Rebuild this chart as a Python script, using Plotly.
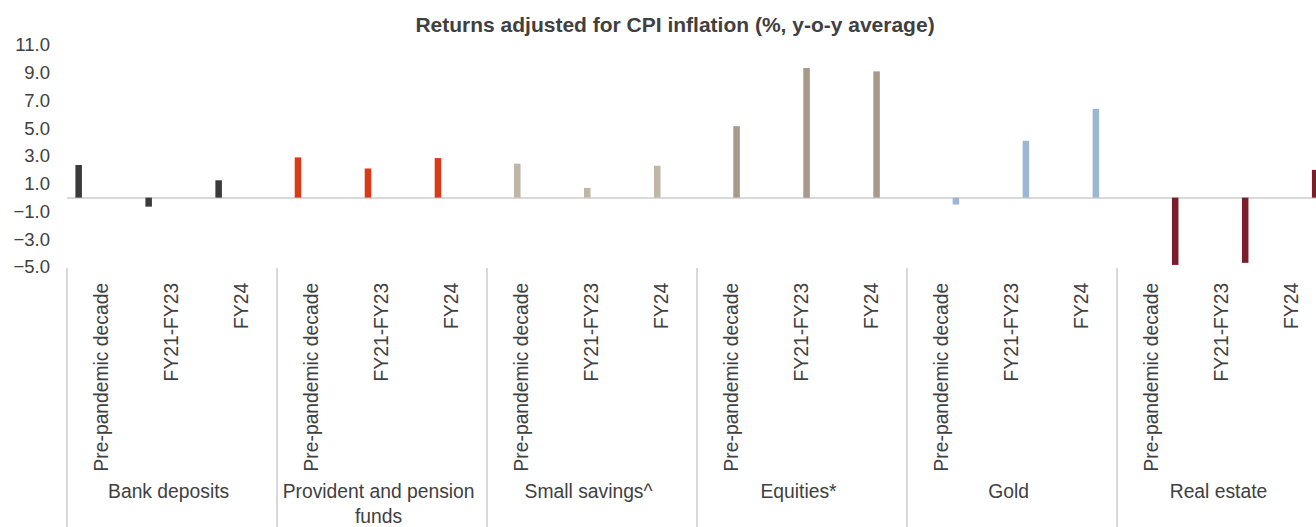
import plotly.graph_objects as go

# ---- data ----
groups = ["Bank deposits", "Provident and pension<br>funds", "Small savings^",
          "Equities*", "Gold", "Real estate"]
periods = ["Pre-pandemic decade", "FY21-FY23", "FY24"]

bank_deposits = [2.35, -0.65, 1.25]
provident_pension = [2.9, 2.1, 2.85]
small_savings = [2.45, 0.7, 2.3]
equities = [5.15, 9.35, 9.1]
gold = [-0.5, 4.1, 6.4]
real_estate = [-4.85, -4.7, 2.0]

series_values = [bank_deposits, provident_pension, small_savings,
                 equities, gold, real_estate]
colors = ["#3b3b3b", "#dc3a17", "#c0b6a8", "#a8998a", "#9ab8d3", "#7c1d2b"]

y_ticks = [-5, -3, -1, 1, 3, 5, 7, 9, 11]

FONT = "Liberation Sans, Arial, sans-serif"

x_outer = [g for g in groups for _ in periods]
x_inner = [p for _ in groups for p in periods]

fig = go.Figure()
for gi, (g, vals, col) in enumerate(zip(groups, series_values, colors)):
    y = []
    for gg in groups:
        if gg == g:
            y.extend(vals)
        else:
            y.extend([None] * len(periods))
    fig.add_trace(go.Bar(
        x=[x_outer, x_inner], y=y, name=g.replace("<br>", " "),
        marker=dict(color=col, line=dict(width=0)),
        showlegend=False,
    ))

fig.update_layout(
    width=1316, height=527,
    margin=dict(l=67, r=0, t=45, b=260),
    paper_bgcolor="white", plot_bgcolor="white",
    barmode="group", bargap=0.2, bargroupgap=0.3,
    font=dict(family=FONT, size=18, color="#404040"),
    title=dict(
        text="<b>Returns adjusted for CPI inflation (%, y-o-y average)</b>",
        x=675 / 1316, xref="container", xanchor="center",
        y=1 - 25 / 527, yref="container", yanchor="middle",
        font=dict(family=FONT, size=21, color="#404040"),
    ),
)

fig.update_xaxes(
    type="multicategory",
    automargin=False,
    tickangle=-90,
    showgrid=False, showline=False, zeroline=False,
    ticks="", ticklabelstandoff=11,
    showdividers=True, dividercolor="#d9d9d9", dividerwidth=1.5,
    range=[-0.5, 17.345],
    tickfont=dict(family=FONT, size=19.3, color="#404040"),
)
fig.update_yaxes(
    automargin=False,
    range=[-5, 11],
    tickvals=y_ticks,
    tickformat=".1f",
    showgrid=False, showline=False,
    zeroline=True, zerolinecolor="#d9d9d9", zerolinewidth=2,
    ticks="", ticklabelstandoff=16,
    tickfont=dict(family=FONT, size=18.5, color="#404040"),
)

fig.write_html(
    "out.html",
    config={"displayModeBar": False},
    post_script="document.body.style.margin='0';"
                "document.body.style.overflow='hidden';"
                "document.documentElement.style.overflow='hidden';",
)
